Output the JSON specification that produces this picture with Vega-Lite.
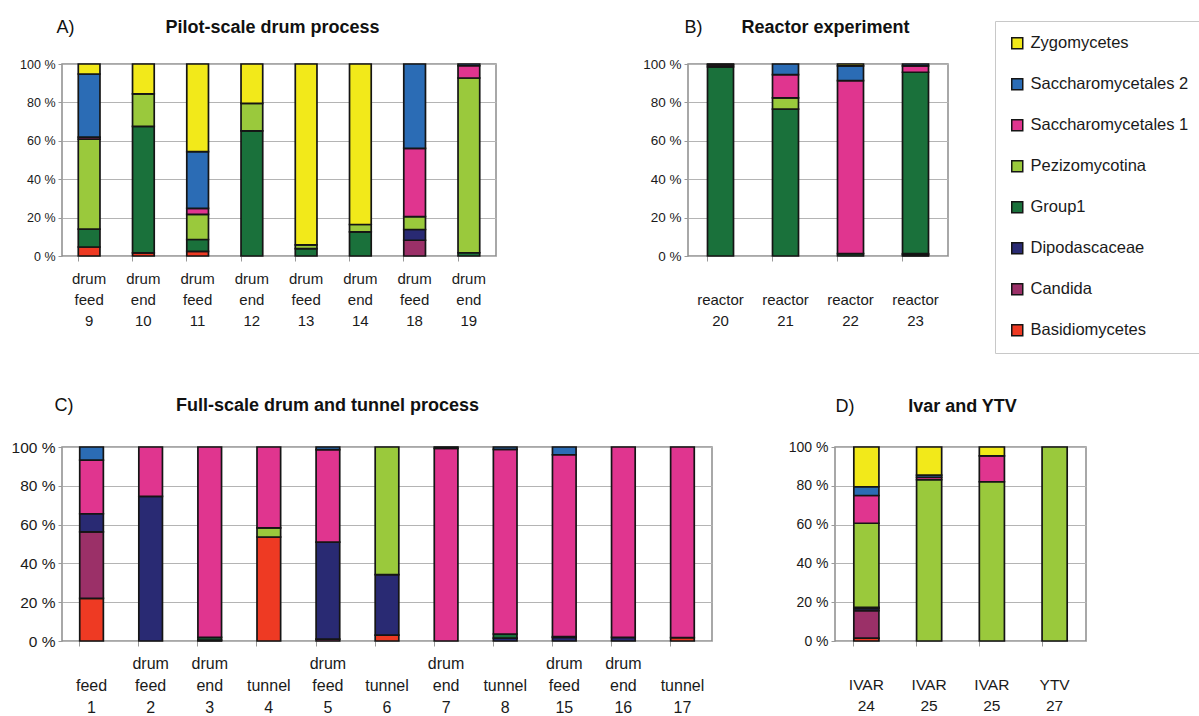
{
  "$schema": "https://vega.github.io/schema/vega-lite/v6.json",
  "padding": {"left": 10, "top": 17, "right": 0, "bottom": 0},
  "background": "white",
  "config": {
    "font": "Liberation Sans",
    "view": {"stroke": "#8c8c8c", "strokeWidth": 1.5},
    "axis": {"labelColor": "#1a1a1a", "titleColor": "#111111", "tickColor": "#999999", "gridColor": "#b4b4b4", "domain": false},
    "axisX": {"labelAngle": 0, "labelBaseline": "top", "bandPosition": 0, "tickSize": 5, "grid": false, "titleFontWeight": "bold", "titleFontSize": 18, "titleAlign": "center", "titleBaseline": "alphabetic", "titleAngle": 0},
    "axisY": {"tickSize": 4, "labelPadding": 3, "titleFontWeight": "normal", "titleFontSize": 18, "titleAngle": 0, "titleAlign": "left", "titleBaseline": "alphabetic"}
  },
  "data": {"values": [
    {"p":"A","s":"drum|feed|9","t":"Basidiomycetes","v":4.7},
    {"p":"A","s":"drum|feed|9","t":"Group1","v":9.3},
    {"p":"A","s":"drum|feed|9","t":"Pezizomycotina","v":46.9},
    {"p":"A","s":"drum|feed|9","t":"Saccharomycetales 1","v":1.0},
    {"p":"A","s":"drum|feed|9","t":"Saccharomycetales 2","v":32.9},
    {"p":"A","s":"drum|feed|9","t":"Zygomycetes","v":5.2},
    {"p":"A","s":"drum|end|10","t":"Basidiomycetes","v":1.6},
    {"p":"A","s":"drum|end|10","t":"Group1","v":65.9},
    {"p":"A","s":"drum|end|10","t":"Pezizomycotina","v":16.9},
    {"p":"A","s":"drum|end|10","t":"Zygomycetes","v":15.6},
    {"p":"A","s":"drum|feed|11","t":"Basidiomycetes","v":2.4},
    {"p":"A","s":"drum|feed|11","t":"Group1","v":6.2},
    {"p":"A","s":"drum|feed|11","t":"Pezizomycotina","v":13.1},
    {"p":"A","s":"drum|feed|11","t":"Saccharomycetales 1","v":3.1},
    {"p":"A","s":"drum|feed|11","t":"Saccharomycetales 2","v":29.6},
    {"p":"A","s":"drum|feed|11","t":"Zygomycetes","v":45.6},
    {"p":"A","s":"drum|end|12","t":"Group1","v":65.2},
    {"p":"A","s":"drum|end|12","t":"Pezizomycotina","v":14.3},
    {"p":"A","s":"drum|end|12","t":"Zygomycetes","v":20.5},
    {"p":"A","s":"drum|feed|13","t":"Group1","v":3.8},
    {"p":"A","s":"drum|feed|13","t":"Pezizomycotina","v":2.0},
    {"p":"A","s":"drum|feed|13","t":"Zygomycetes","v":94.2},
    {"p":"A","s":"drum|end|14","t":"Group1","v":12.6},
    {"p":"A","s":"drum|end|14","t":"Pezizomycotina","v":3.8},
    {"p":"A","s":"drum|end|14","t":"Zygomycetes","v":83.6},
    {"p":"A","s":"drum|feed|18","t":"Candida","v":8.2},
    {"p":"A","s":"drum|feed|18","t":"Dipodascaceae","v":5.6},
    {"p":"A","s":"drum|feed|18","t":"Pezizomycotina","v":6.7},
    {"p":"A","s":"drum|feed|18","t":"Saccharomycetales 1","v":35.6},
    {"p":"A","s":"drum|feed|18","t":"Saccharomycetales 2","v":43.9},
    {"p":"A","s":"drum|end|19","t":"Group1","v":1.7},
    {"p":"A","s":"drum|end|19","t":"Pezizomycotina","v":91.0},
    {"p":"A","s":"drum|end|19","t":"Saccharomycetales 1","v":6.4},
    {"p":"A","s":"drum|end|19","t":"Saccharomycetales 2","v":0.9},
    {"p":"B","s":" |reactor|20","t":"Group1","v":98.5},
    {"p":"B","s":" |reactor|20","t":"Saccharomycetales 1","v":1.0},
    {"p":"B","s":" |reactor|20","t":"Saccharomycetales 2","v":0.5},
    {"p":"B","s":" |reactor|21","t":"Group1","v":76.5},
    {"p":"B","s":" |reactor|21","t":"Pezizomycotina","v":5.9},
    {"p":"B","s":" |reactor|21","t":"Saccharomycetales 1","v":12.1},
    {"p":"B","s":" |reactor|21","t":"Saccharomycetales 2","v":5.5},
    {"p":"B","s":" |reactor|22","t":"Group1","v":1.2},
    {"p":"B","s":" |reactor|22","t":"Saccharomycetales 1","v":90.1},
    {"p":"B","s":" |reactor|22","t":"Saccharomycetales 2","v":7.7},
    {"p":"B","s":" |reactor|22","t":"Zygomycetes","v":1.0},
    {"p":"B","s":" |reactor|23","t":"Basidiomycetes","v":0.7},
    {"p":"B","s":" |reactor|23","t":"Dipodascaceae","v":0.5},
    {"p":"B","s":" |reactor|23","t":"Group1","v":94.5},
    {"p":"B","s":" |reactor|23","t":"Saccharomycetales 1","v":3.3},
    {"p":"B","s":" |reactor|23","t":"Saccharomycetales 2","v":1.0},
    {"p":"C","s":" |feed|1","t":"Basidiomycetes","v":22.0},
    {"p":"C","s":" |feed|1","t":"Candida","v":34.3},
    {"p":"C","s":" |feed|1","t":"Dipodascaceae","v":9.3},
    {"p":"C","s":" |feed|1","t":"Saccharomycetales 1","v":27.6},
    {"p":"C","s":" |feed|1","t":"Saccharomycetales 2","v":6.8},
    {"p":"C","s":"drum|feed|2","t":"Dipodascaceae","v":74.5},
    {"p":"C","s":"drum|feed|2","t":"Saccharomycetales 1","v":25.5},
    {"p":"C","s":"drum|end|3","t":"Dipodascaceae","v":0.5},
    {"p":"C","s":"drum|end|3","t":"Group1","v":1.4},
    {"p":"C","s":"drum|end|3","t":"Saccharomycetales 1","v":98.1},
    {"p":"C","s":" |tunnel|4","t":"Basidiomycetes","v":53.6},
    {"p":"C","s":" |tunnel|4","t":"Pezizomycotina","v":4.7},
    {"p":"C","s":" |tunnel|4","t":"Saccharomycetales 1","v":41.7},
    {"p":"C","s":"drum|feed|5","t":"Candida","v":1.0},
    {"p":"C","s":"drum|feed|5","t":"Dipodascaceae","v":50.0},
    {"p":"C","s":"drum|feed|5","t":"Saccharomycetales 1","v":47.6},
    {"p":"C","s":"drum|feed|5","t":"Saccharomycetales 2","v":1.4},
    {"p":"C","s":" |tunnel|6","t":"Basidiomycetes","v":3.0},
    {"p":"C","s":" |tunnel|6","t":"Dipodascaceae","v":31.2},
    {"p":"C","s":" |tunnel|6","t":"Pezizomycotina","v":65.8},
    {"p":"C","s":"drum|end|7","t":"Saccharomycetales 1","v":99.3},
    {"p":"C","s":"drum|end|7","t":"Saccharomycetales 2","v":0.7},
    {"p":"C","s":" |tunnel|8","t":"Dipodascaceae","v":1.5},
    {"p":"C","s":" |tunnel|8","t":"Group1","v":2.1},
    {"p":"C","s":" |tunnel|8","t":"Saccharomycetales 1","v":95.2},
    {"p":"C","s":" |tunnel|8","t":"Saccharomycetales 2","v":1.2},
    {"p":"C","s":"drum|feed|15","t":"Dipodascaceae","v":1.8},
    {"p":"C","s":"drum|feed|15","t":"Group1","v":0.5},
    {"p":"C","s":"drum|feed|15","t":"Saccharomycetales 1","v":93.7},
    {"p":"C","s":"drum|feed|15","t":"Saccharomycetales 2","v":4.0},
    {"p":"C","s":"drum|end|16","t":"Dipodascaceae","v":1.9},
    {"p":"C","s":"drum|end|16","t":"Saccharomycetales 1","v":98.1},
    {"p":"C","s":" |tunnel|17","t":"Basidiomycetes","v":1.7},
    {"p":"C","s":" |tunnel|17","t":"Saccharomycetales 1","v":98.3},
    {"p":"D","s":" |IVAR|24","t":"Basidiomycetes","v":1.5},
    {"p":"D","s":" |IVAR|24","t":"Candida","v":14.2},
    {"p":"D","s":" |IVAR|24","t":"Dipodascaceae","v":1.1},
    {"p":"D","s":" |IVAR|24","t":"Group1","v":0.5},
    {"p":"D","s":" |IVAR|24","t":"Pezizomycotina","v":43.4},
    {"p":"D","s":" |IVAR|24","t":"Saccharomycetales 1","v":14.3},
    {"p":"D","s":" |IVAR|24","t":"Saccharomycetales 2","v":4.5},
    {"p":"D","s":" |IVAR|24","t":"Zygomycetes","v":20.5},
    {"p":"D","s":" |IVAR|25","t":"Pezizomycotina","v":83.2},
    {"p":"D","s":" |IVAR|25","t":"Saccharomycetales 1","v":1.2},
    {"p":"D","s":" |IVAR|25","t":"Saccharomycetales 2","v":1.1},
    {"p":"D","s":" |IVAR|25","t":"Zygomycetes","v":14.5},
    {"p":"D","s":" |IVAR|25 ","t":"Pezizomycotina","v":82.1},
    {"p":"D","s":" |IVAR|25 ","t":"Saccharomycetales 1","v":13.3},
    {"p":"D","s":" |IVAR|25 ","t":"Zygomycetes","v":4.6},
    {"p":"D","s":" |YTV|27","t":"Pezizomycotina","v":100}
  ]},
  "bounds": "flush",
  "spacing": 383,
  "vconcat": [
    {
      "bounds": "flush",
      "spacing": 192,
      "hconcat": [
        {
          "width": 434, "height": 192,
          "transform": [{"filter": "datum.p == 'A'"}],
          "mark": {"type": "bar", "stroke": "#151515", "strokeWidth": 1.7},
          "encoding": {
            "x": {"field": "s", "type": "nominal", "sort": null, "scale": {"paddingInner": 0.6, "paddingOuter": 0.3},
                  "axis": {"title": "Pilot-scale drum process", "titleX": 210, "titleY": -224, "labelExpr": "split(datum.value, '|')", "labelFontSize": 15, "labelLineHeight": 21, "labelPadding": 10}},
            "y": {"field": "v", "type": "quantitative", "stack": "zero", "scale": {"domain": [0, 100]},
                  "axis": {"title": "A)", "titleX": -6, "titleY": -32, "values": [0, 20, 40, 60, 80, 100], "labelExpr": "datum.value + ' %'", "labelFontSize": 12.5}},
            "color": {"field": "t", "type": "nominal",
                      "scale": {"domain": ["Zygomycetes", "Saccharomycetales 2", "Saccharomycetales 1", "Pezizomycotina", "Group1", "Dipodascaceae", "Candida", "Basidiomycetes"],
                                "range": ["#f2e91a", "#2b6cb5", "#e0358f", "#9ac93c", "#1a713b", "#292a73", "#9b3068", "#ee3a23"]},
                      "legend": {"orient": "none", "legendX": 933, "legendY": -43, "title": null, "strokeColor": "#c8c8c8", "fillColor": "white", "padding": 14, "rowPadding": 23, "symbolType": "square", "symbolSize": 121, "symbolStrokeColor": "#151515", "symbolStrokeWidth": 1.5, "symbolOpacity": 1, "labelFontSize": 16.5, "labelOffset": 5, "labelLimit": 300, "labelColor": "#1a1a1a"}},
            "order": {"field": "t", "sort": "ascending"}
          }
        },
        {
          "width": 260, "height": 192,
          "transform": [{"filter": "datum.p == 'B'"}],
          "mark": {"type": "bar", "stroke": "#151515", "strokeWidth": 1.7},
          "encoding": {
            "x": {"field": "s", "type": "nominal", "sort": null, "scale": {"paddingInner": 0.6, "paddingOuter": 0.3},
                  "axis": {"title": "Reactor experiment", "titleX": 137, "titleY": -224, "labelExpr": "split(datum.value, '|')", "labelFontSize": 15, "labelLineHeight": 21, "labelPadding": 10}},
            "y": {"field": "v", "type": "quantitative", "stack": "zero", "scale": {"domain": [0, 100]},
                  "axis": {"title": "B)", "titleX": -4, "titleY": -32, "values": [0, 20, 40, 60, 80, 100], "labelExpr": "datum.value + ' %'", "labelFontSize": 13.5}},
            "color": {"field": "t", "type": "nominal",
                      "scale": {"domain": ["Zygomycetes", "Saccharomycetales 2", "Saccharomycetales 1", "Pezizomycotina", "Group1", "Dipodascaceae", "Candida", "Basidiomycetes"],
                                "range": ["#f2e91a", "#2b6cb5", "#e0358f", "#9ac93c", "#1a713b", "#292a73", "#9b3068", "#ee3a23"]},
                      "legend": {"orient": "none", "legendX": 933, "legendY": -43, "title": null, "strokeColor": "#c8c8c8", "fillColor": "white", "padding": 14, "rowPadding": 23, "symbolType": "square", "symbolSize": 121, "symbolStrokeColor": "#151515", "symbolStrokeWidth": 1.5, "symbolOpacity": 1, "labelFontSize": 16.5, "labelOffset": 5, "labelLimit": 300, "labelColor": "#1a1a1a"}},
            "order": {"field": "t", "sort": "ascending"}
          }
        }
      ]
    },
    {
      "bounds": "flush",
      "spacing": 123,
      "hconcat": [
        {
          "width": 650, "height": 194,
          "transform": [{"filter": "datum.p == 'C'"}],
          "mark": {"type": "bar", "stroke": "#151515", "strokeWidth": 1.7},
          "encoding": {
            "x": {"field": "s", "type": "nominal", "sort": null, "scale": {"paddingInner": 0.6, "paddingOuter": 0.3},
                  "axis": {"title": "Full-scale drum and tunnel process", "titleX": 265, "titleY": -231, "labelExpr": "split(datum.value, '|')", "labelFontSize": 16, "labelLineHeight": 22, "labelPadding": 9}},
            "y": {"field": "v", "type": "quantitative", "stack": "zero", "scale": {"domain": [0, 100]},
                  "axis": {"title": "C)", "titleX": -8, "titleY": -37, "values": [0, 20, 40, 60, 80, 100], "labelExpr": "datum.value + ' %'", "labelFontSize": 15.5}},
            "color": {"field": "t", "type": "nominal",
                      "scale": {"domain": ["Zygomycetes", "Saccharomycetales 2", "Saccharomycetales 1", "Pezizomycotina", "Group1", "Dipodascaceae", "Candida", "Basidiomycetes"],
                                "range": ["#f2e91a", "#2b6cb5", "#e0358f", "#9ac93c", "#1a713b", "#292a73", "#9b3068", "#ee3a23"]},
                      "legend": {"orient": "none", "legendX": 933, "legendY": -43, "title": null, "strokeColor": "#c8c8c8", "fillColor": "white", "padding": 14, "rowPadding": 23, "symbolType": "square", "symbolSize": 121, "symbolStrokeColor": "#151515", "symbolStrokeWidth": 1.5, "symbolOpacity": 1, "labelFontSize": 16.5, "labelOffset": 5, "labelLimit": 300, "labelColor": "#1a1a1a"}},
            "order": {"field": "t", "sort": "ascending"}
          }
        },
        {
          "width": 251, "height": 194,
          "transform": [{"filter": "datum.p == 'D'"}],
          "mark": {"type": "bar", "stroke": "#151515", "strokeWidth": 1.7},
          "encoding": {
            "x": {"field": "s", "type": "nominal", "sort": null, "scale": {"paddingInner": 0.6, "paddingOuter": 0.3},
                  "axis": {"title": "Ivar  and YTV", "titleX": 127, "titleY": -230, "labelExpr": "split(datum.value, '|')", "labelFontSize": 15.5, "labelLineHeight": 21, "labelPadding": 10}},
            "y": {"field": "v", "type": "quantitative", "stack": "zero", "scale": {"domain": [0, 100]},
                  "axis": {"title": "D)", "titleX": 0, "titleY": -36, "values": [0, 20, 40, 60, 80, 100], "labelExpr": "datum.value + ' %'", "labelFontSize": 14}},
            "color": {"field": "t", "type": "nominal",
                      "scale": {"domain": ["Zygomycetes", "Saccharomycetales 2", "Saccharomycetales 1", "Pezizomycotina", "Group1", "Dipodascaceae", "Candida", "Basidiomycetes"],
                                "range": ["#f2e91a", "#2b6cb5", "#e0358f", "#9ac93c", "#1a713b", "#292a73", "#9b3068", "#ee3a23"]},
                      "legend": {"orient": "none", "legendX": 933, "legendY": -43, "title": null, "strokeColor": "#c8c8c8", "fillColor": "white", "padding": 14, "rowPadding": 23, "symbolType": "square", "symbolSize": 121, "symbolStrokeColor": "#151515", "symbolStrokeWidth": 1.5, "symbolOpacity": 1, "labelFontSize": 16.5, "labelOffset": 5, "labelLimit": 300, "labelColor": "#1a1a1a"}},
            "order": {"field": "t", "sort": "ascending"}
          }
        }
      ]
    }
  ]
}
